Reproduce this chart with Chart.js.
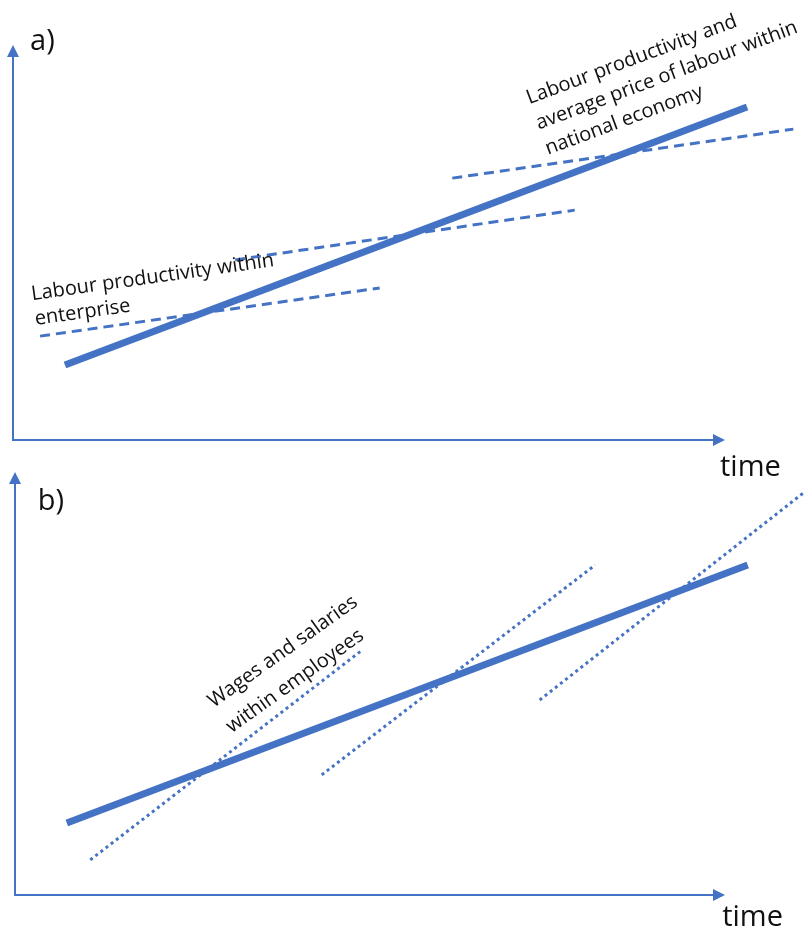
<!DOCTYPE html>
<html lang="en">
<head>
    <meta charset="UTF-8">
    <title>Labour productivity and wages</title>
    <script src="https://cdn.jsdelivr.net/npm/chart.js"></script>
    <style>
        body {
            margin: 0;
            padding: 0;
            background-color: #ffffff;
        }
        #wrap {
            position: relative;
            width: 806px;
            height: 933px;
        }
        canvas {
            position: absolute;
            left: 0;
        }
        #chartA { top: 0; }
        #chartB { top: 466px; }
    </style>
</head>
<body>
    <div id="wrap">
        <canvas id="chartA" width="806" height="490"></canvas>
        <canvas id="chartB" width="806" height="467"></canvas>
    </div>

    <script>
        // axis range (abstract units, time on x)
        const timeMin = 0, timeMax = 10;
        const valueMin = 0, valueMax = 10;

        // panel a
        const aTrend = [{ x: 0.73, y: 1.90 }, { x: 10.31, y: 8.43 }];
        const aDash1 = [{ x: 0.38, y: 2.63 }, { x: 5.15, y: 3.85 }];
        const aDash2 = [{ x: 3.12, y: 4.56 }, { x: 7.89, y: 5.82 }];
        const aDash3 = [{ x: 6.17, y: 6.63 }, { x: 10.96, y: 7.87 }];

        // panel b
        const bTrend = [{ x: 0.73, y: 1.70 }, { x: 10.32, y: 7.80 }];
        const bDot1 = [{ x: 1.06, y: 0.83 }, { x: 4.89, y: 5.79 }];
        const bDot2 = [{ x: 4.32, y: 2.84 }, { x: 8.17, y: 7.80 }];
        const bDot3 = [{ x: 7.39, y: 4.61 }, { x: 11.10, y: 9.50 }];

        const aTexts = [
            { lines: ['a)'], x: 0.24, y: 9.87, angle: 0, size: 29, lh: 0 },
            { lines: ['time'], x: 9.93, y: -0.91, angle: 0, size: 29, lh: 0 },
            { lines: ['Labour productivity within', 'enterprise'], x: 0.27, y: 3.54, angle: -8, size: 20, lh: 25 },
            { lines: ['Labour productivity and', 'average price of labour within', 'national economy'], x: 7.25, y: 8.50, angle: -20.5, size: 20, lh: 27 }
        ];
        const bTexts = [
            { lines: ['b)'], x: 0.32, y: 9.10, angle: 0, size: 29, lh: 0 },
            { lines: ['time'], x: 9.96, y: -0.73, angle: 0, size: 29, lh: 0 },
            { lines: ['Wages and salaries', 'within employees'], x: 2.80, y: 4.42, angle: -35.5, size: 20, lh: 31 }
        ];

        const blue = '#4472C4';

        // axes with arrow heads + rotated labels
        const decorPlugin = {
            id: 'decor',
            afterDatasetsDraw(chart, args, opts) {
                const ctx = chart.ctx;
                const xs = chart.scales.x, ys = chart.scales.y;
                const x0 = xs.getPixelForValue(timeMin), y0 = ys.getPixelForValue(valueMin);
                const x1 = xs.getPixelForValue(timeMax), y1 = ys.getPixelForValue(valueMax);
                ctx.save();
                ctx.strokeStyle = blue;
                ctx.fillStyle = blue;
                ctx.lineWidth = 2;
                ctx.beginPath();
                ctx.moveTo(x0, y1 + 10);
                ctx.lineTo(x0, y0);
                ctx.lineTo(x1 - 10, y0);
                ctx.stroke();
                ctx.beginPath();
                ctx.moveTo(x0, y1);
                ctx.lineTo(x0 - 6, y1 + 12);
                ctx.lineTo(x0 + 6, y1 + 12);
                ctx.closePath();
                ctx.fill();
                ctx.beginPath();
                ctx.moveTo(x1, y0);
                ctx.lineTo(x1 - 12, y0 - 6);
                ctx.lineTo(x1 - 12, y0 + 6);
                ctx.closePath();
                ctx.fill();

                ctx.fillStyle = '#111111';
                ctx.textAlign = 'left';
                ctx.textBaseline = 'alphabetic';
                opts.texts.forEach(t => {
                    ctx.save();
                    ctx.translate(xs.getPixelForValue(t.x), ys.getPixelForValue(t.y));
                    ctx.rotate(t.angle * Math.PI / 180);
                    ctx.font = '500 ' + t.size + 'px "Open Sans", sans-serif';
                    t.lines.forEach((line, i) => ctx.fillText(line, 0, i * t.lh));
                    ctx.restore();
                });
                ctx.restore();
            }
        };

        function line(data, kind) {
            const ds = {
                data: data,
                showLine: true,
                pointRadius: 0,
                borderColor: blue,
                clip: false,
                borderWidth: 3
            };
            if (kind === 'solid') ds.borderWidth = 7;
            if (kind === 'dash') ds.borderDash = [10, 6];
            if (kind === 'dot') ds.borderDash = [3, 3.5];
            return ds;
        }

        function makeChart(id, datasets, texts, padding) {
            return new Chart(document.getElementById(id), {
                type: 'scatter',
                data: { datasets: datasets },
                plugins: [decorPlugin],
                options: {
                    responsive: false,
                    animation: false,
                    layout: { padding: padding },
                    scales: {
                        x: { type: 'linear', min: timeMin, max: timeMax, display: false },
                        y: { type: 'linear', min: valueMin, max: valueMax, display: false }
                    },
                    plugins: {
                        legend: { display: false },
                        tooltip: { enabled: false },
                        decor: { texts: texts }
                    }
                }
            });
        }

        makeChart('chartA',
            [line(aTrend, 'solid'), line(aDash1, 'dash'), line(aDash2, 'dash'), line(aDash3, 'dash')],
            aTexts,
            { left: 13, right: 81, top: 45, bottom: 50 });

        makeChart('chartB',
            [line(bTrend, 'solid'), line(bDot1, 'dot'), line(bDot2, 'dot'), line(bDot3, 'dot')],
            bTexts,
            { left: 15, right: 81, top: 6, bottom: 38 });
    </script>
</body>
</html>
